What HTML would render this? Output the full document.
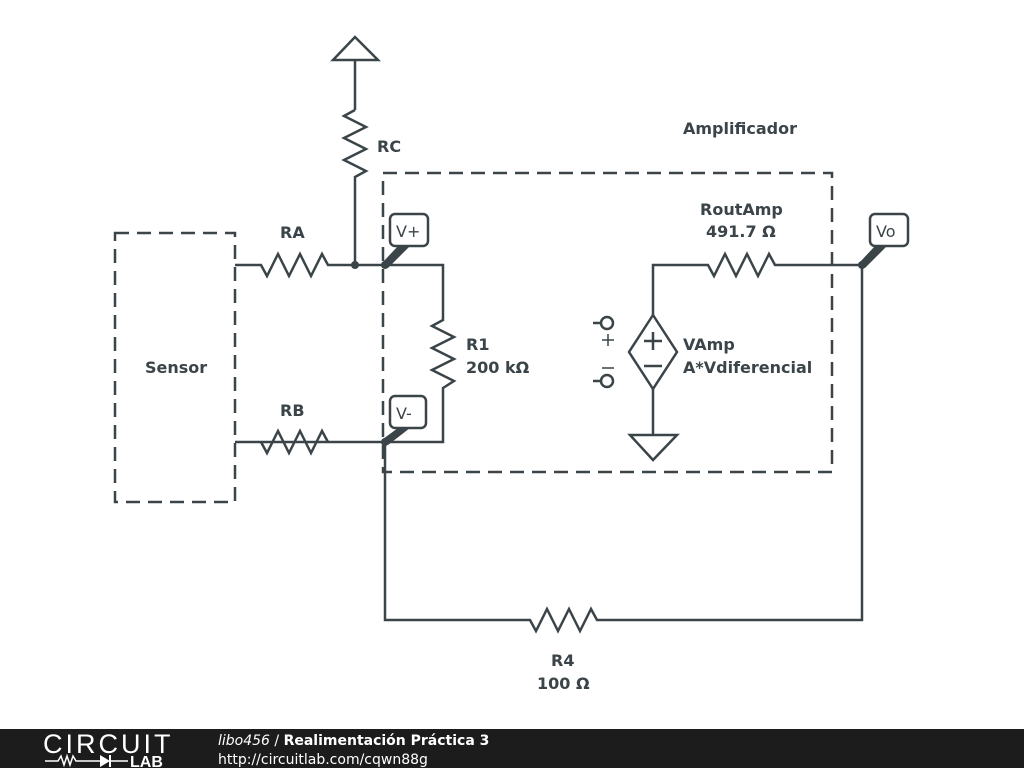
<!DOCTYPE html>
<html><head><meta charset="utf-8"><style>
html,body{margin:0;padding:0;background:#fff;}
svg{display:block;}
text{font-family:"DejaVu Sans","Liberation Sans",sans-serif;fill:#3b4448;font-weight:bold;font-size:16px;}
</style></head><body>
<svg width="1024" height="768" viewBox="0 0 1024 768" xmlns="http://www.w3.org/2000/svg">
<g fill="none" stroke="#3b4448" stroke-width="2.5" stroke-linejoin="miter">
<polygon points="355,37 333,60 378,60"/>
<line x1="355" y1="60" x2="355" y2="110"/>
<polyline points="355,110 344,116 366,127 344,138 366,149 344,160 366,171 355,177 355,265"/>
<polyline points="235,265 261,265 267,276 278,254 289,276 300,254 311,276 322,254 328,265 443,265 443,320 432,326 454,337 432,348 454,359 432,370 454,381 443,388 443,442 235,442"/>
<polyline points="261,442 267,453 278,431 289,453 300,431 311,453 322,431 328,442"/>
<polyline points="385,442 385,620 530,620 536,631 547,609 558,631 569,609 580,631 591,609 597,620 862,620 862,265 775,265 769,254 758,276 747,254 736,276 725,254 714,276 708,265 653,265 653,315"/>
<polygon points="653,315 677,352 653,389 629,352"/>
<line x1="653" y1="389" x2="653" y2="435"/>
<polygon points="630,435 677,435 653,460"/>
<line x1="644" y1="341" x2="662" y2="341"/><line x1="653" y1="332" x2="653" y2="350"/>
<line x1="644" y1="366" x2="662" y2="366"/>
<circle cx="607" cy="323" r="6"/><line x1="593" y1="323" x2="601" y2="323"/>
<circle cx="607" cy="381" r="6"/><line x1="593" y1="381" x2="601" y2="381"/>
<line x1="602" y1="340" x2="614" y2="340" stroke-width="1.5"/><line x1="608" y1="334" x2="608" y2="346" stroke-width="1.5"/>
<line x1="602" y1="368" x2="614" y2="368" stroke-width="1.5"/>
<rect x="115" y="233" width="120" height="269" stroke-dasharray="14,8"/>
<rect x="383" y="173" width="449" height="299" stroke-dasharray="14,8"/>
<rect x="390" y="214" width="38" height="32" rx="5" fill="#fff"/>
<rect x="390" y="396" width="36" height="32" rx="5" fill="#fff"/>
<rect x="870" y="214" width="38" height="32" rx="5" fill="#fff"/>
</g>
<g fill="#3b4448">
<circle cx="355" cy="265" r="4"/><circle cx="385" cy="265" r="4"/><circle cx="385" cy="442" r="4"/><circle cx="862" cy="265" r="4"/>
<polygon points="383,262 398,246 410,246 388,268"/>
<polygon points="383,439 398,428 410,428 388,445"/>
<polygon points="860,262 875,246 887,246 865,268"/>
</g>
<text x="396" y="237" style="font-weight:normal">V+</text>
<text x="396" y="419" style="font-weight:normal">V-</text>
<text x="876" y="237" style="font-weight:normal">Vo</text>
<text x="377" y="152">RC</text>
<text x="280" y="238">RA</text>
<text x="280" y="416">RB</text>
<text x="145" y="373">Sensor</text>
<text x="466" y="350">R1</text>
<text x="466" y="373">200 kΩ</text>
<text x="683" y="134">Amplificador</text>
<text x="700" y="215">RoutAmp</text>
<text x="706" y="237">491.7 Ω</text>
<text x="683" y="350">VAmp</text>
<text x="683" y="373">A*Vdiferencial</text>
<text x="551" y="666">R4</text>
<text x="537" y="689">100 Ω</text>
<rect x="0" y="729" width="1024" height="39" fill="#1c1c1c"/>
<text x="43" y="753" style="font-family:'Liberation Sans',sans-serif;font-weight:normal;font-size:27px;fill:#fff;letter-spacing:3px">CIRCUIT</text>
<g stroke="#fff" stroke-width="1.5" fill="none"><polyline points="45,761 58,761 61,756 64,765 67,756 70,765 73,756 76,761 100,761"/><line x1="110" y1="761" x2="128" y2="761"/></g>
<polygon points="100,755 100,767 110,761" fill="#fff"/><line x1="110" y1="755" x2="110" y2="767" stroke="#fff" stroke-width="2"/>
<text x="130" y="767" style="font-family:'Liberation Sans',sans-serif;font-size:16px;fill:#fff;font-weight:900">LAB</text>
<text x="218" y="745" style="font-size:14px;fill:#fff;font-weight:normal"><tspan font-style="italic">libo456</tspan> / <tspan font-weight="bold">Realimentación Práctica 3</tspan></text>
<text x="218" y="764" style="font-size:14px;fill:#fff;font-weight:normal">http://circuitlab.com/cqwn88g</text>
</svg>
</body></html>
